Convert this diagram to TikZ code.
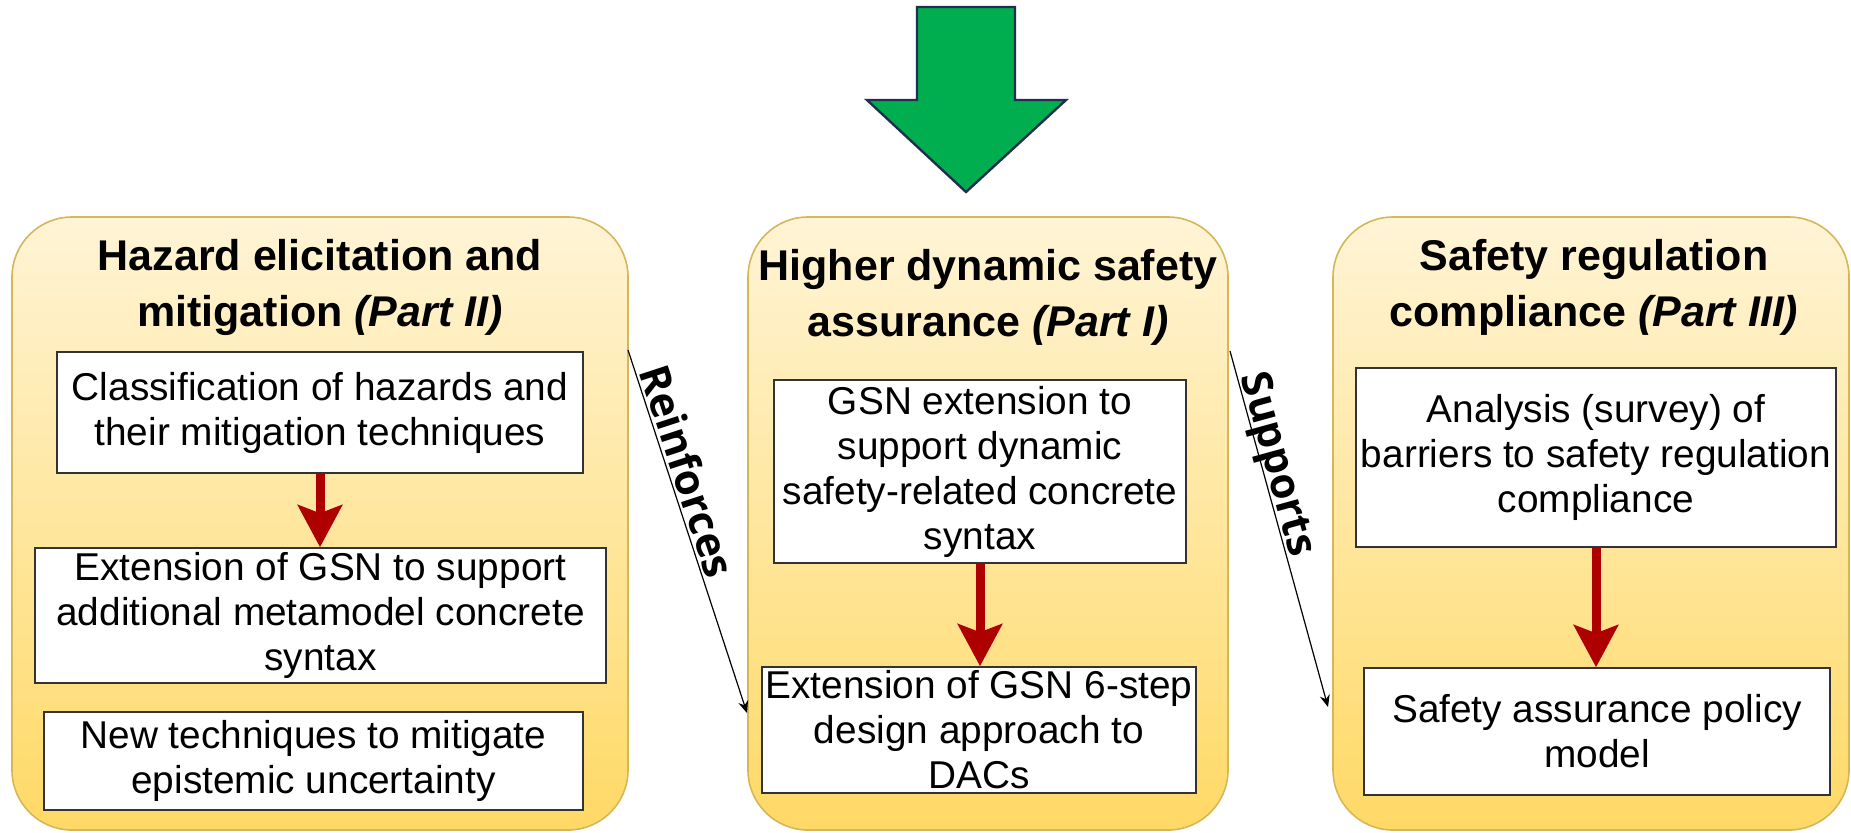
\documentclass[tikz,border=0pt]{standalone}
\usepackage{fontspec}
\setmainfont{Liberation Sans}
\newfontfamily\relfont{Open Sans}
\usetikzlibrary{arrows.meta}
\definecolor{panelTop}{HTML}{FFF4D6}
\definecolor{panelBot}{HTML}{FFD966}
\definecolor{panelLine}{HTML}{D6B656}
\definecolor{flowRed}{HTML}{AE0000}
\definecolor{bigGreen}{HTML}{00AE4F}
\definecolor{bigEdge}{HTML}{1F2F4F}

\begin{document}
\begin{tikzpicture}[x=0.5pt, y=-0.5pt,
  panel/.style={draw=panelLine, line width=0.8pt, rounded corners=30pt, top color=panelTop, bottom color=panelBot, minimum height=306.5pt, inner sep=0pt},
  title/.style={align=center, font=\fontsize{21.5}{28}\selectfont\bfseries},
  item/.style={draw=black!80, line width=0.8pt, fill=white, align=center, inner sep=0pt, font=\fontsize{19.4}{22.5}\selectfont},
  flow/.style={draw=flowRed, line width=4.5pt, -{Stealth[length=21pt, width=22pt, inset=4pt]}},
  rel/.style={draw=black, line width=0.6pt, -{Stealth[length=6pt, width=5pt]}},
  rellabel/.style={font=\relfont\fontsize{21}{24}\selectfont\bfseries, sloped, above, text depth=0pt, inner sep=1.5pt}]
\useasboundingbox (0,0) rectangle (1851,832);

\draw[draw=bigEdge, fill=bigGreen, line width=1.2pt, line join=miter] (917,7) -- (1015,7) -- (1015,100) -- (1066,100) -- (966,192) -- (867,100) -- (917,100) -- cycle;

\node[panel, minimum width=308pt] (panelL) at (320,523.5) {};
\node[panel, minimum width=240pt] (panelM) at (988,523.5) {};
\node[panel, minimum width=258pt] (panelR) at (1591,523.5) {};

\node[title] (titleL) at (320,287) {Hazard elicitation and\\mitigation \textit{(Part II)}};
\node[title] (titleM) at (988,297) {Higher dynamic safety\\assurance \textit{(Part I)}};
\node[title] (titleR) at (1594,287) {Safety regulation\\compliance \textit{(Part III)}};

\node[item, minimum width=263pt, minimum height=60.5pt] (B1) at (320,412.5) {Classification of hazards and\\their mitigation techniques};
\node[item, minimum width=285.5pt, minimum height=67.5pt] (B2) at (320.5,615.5) {Extension of GSN to support\\additional metamodel concrete\\syntax};
\node[item, minimum width=269.5pt, minimum height=49pt] (B3) at (313.5,761) {New techniques to mitigate\\epistemic uncertainty};

\node[item, minimum width=206pt, minimum height=91.5pt] (M1) at (980,471.5) {GSN extension to\\support dynamic\\safety-related concrete\\syntax};
\node[item, minimum width=217pt, minimum height=63pt] (M2) at (979,730) {Extension of GSN 6-step\\design approach to\\DACs};

\node[item, minimum width=240pt, minimum height=89.5pt] (R1) at (1596,457.5) {Analysis (survey) of\\barriers to safety regulation\\compliance};
\node[item, minimum width=233pt, minimum height=63.5pt] (R2) at (1597,731.5) {Safety assurance policy\\model};

\draw[flow] (B1.south) -- (B1.south |- B2.north);
\draw[flow] (M1.south) -- (M1.south |- M2.north);
\draw[flow] (R1.south) -- (R1.south |- R2.north);

\coordinate (reinfA) at (628,350);
\coordinate (reinfB) at (747,713);
\coordinate (suppA) at (1230,351);
\coordinate (suppB) at (1328,707);
\draw[rel] (reinfA) -- node[rellabel, pos=0.35] {Reinforces} (reinfB);
\draw[rel] (suppA) -- node[rellabel, pos=0.33] {Supports} (suppB);
\end{tikzpicture}
\end{document}
